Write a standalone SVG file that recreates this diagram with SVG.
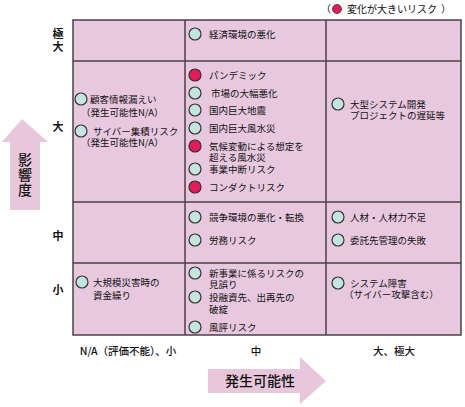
<svg xmlns="http://www.w3.org/2000/svg" width="465" height="407" viewBox="0 0 465 407">
<style>
text{font-family:"Noto Sans CJK JP","Noto Sans",sans-serif;fill:#111}
.t{font-size:9.5px}
.lg{font-size:10px}
.lab{font-size:11px;font-weight:bold;text-anchor:middle}
.ax{font-size:10.5px;text-anchor:middle;font-weight:500}
.big{font-size:14px;text-anchor:middle;font-weight:500}
.cell{fill:#e8c8df}
.g{fill:#c3e5df;stroke:#333;stroke-width:1.2}
.r{fill:#e6195b;stroke:#333;stroke-width:1.2}
.arr{fill:#e8c6dc}
</style>
<g id="legend">
<text class="lg" x="321" y="13">（</text>
<circle cx="337" cy="9" r="4.5" fill="#e6195b" stroke="#333" stroke-width="0.8"/>
<text class="lg" x="347" y="13">変化が大きいリスク</text>
<text class="lg" x="441" y="13">）</text>
</g>
<g id="grid">
<rect class="cell" x="73" y="20" width="388" height="315" stroke="#4a4048" stroke-width="1.5"/>
<path d="M185 20V335M326 20V335M73 61H461M73 202H461M73 263H461" stroke="#4a4048" stroke-width="1.5" fill="none"/>
</g>
<g id="row-labels">
<text class="lab" x="58" y="38">極<tspan x="58" y="51">大</tspan></text>
<text class="lab" x="58" y="131">大</text>
<text class="lab" x="58" y="240">中</text>
<text class="lab" x="58" y="294">小</text>
</g>
<g id="impact-arrow">
<path class="arr" d="M22 119L48 142H40V210H10V142H2Z"/>
<text class="big" x="25" y="165">影<tspan x="25" y="180">響</tspan><tspan x="25" y="195">度</tspan></text>
</g>
<g id="x-labels">
<text class="ax" x="128" y="355">N/A（評価不能）、小</text>
<text class="ax" x="256" y="355">中</text>
<text class="ax" x="394" y="355">大、極大</text>
</g>
<g id="likelihood-arrow">
<path class="arr" d="M208 369H300V357L326 381L300 404V393H208Z"/>
<text class="big" x="260" y="386">発生可能性</text>
</g>
<g id="cell-extreme-mid">
<circle class="g" cx="195" cy="34" r="6"/><text class="t" x="209" y="37.5">経済環境の悪化</text>
</g>
<g id="cell-large-na">
<circle class="g" cx="81" cy="99" r="6"/><text class="t" x="90" y="102.5">顧客情報漏えい<tspan x="81" y="115.5">（発生可能性N/A）</tspan></text>
<circle class="g" cx="81" cy="131" r="6"/><text class="t" x="93" y="134.5">サイバー集積リスク<tspan x="81" y="146">（発生可能性N/A）</tspan></text>
</g>
<g id="cell-large-mid">
<circle class="r" cx="195" cy="75" r="6"/><text class="t" x="209" y="78.5">パンデミック</text>
<circle class="g" cx="195" cy="93" r="6"/><text class="t" x="211" y="96.5">市場の大幅悪化</text>
<circle class="g" cx="195" cy="110" r="6"/><text class="t" x="209" y="113.5">国内巨大地震</text>
<circle class="g" cx="195" cy="128" r="6"/><text class="t" x="209" y="131.5">国内巨大風水災</text>
<circle class="r" cx="195" cy="146" r="6"/><text class="t" x="209" y="149.5">気候変動による想定を<tspan x="209" y="161">超える風水災</tspan></text>
<circle class="g" cx="195" cy="169" r="6"/><text class="t" x="209" y="172.5">事業中断リスク</text>
<circle class="r" cx="195" cy="187" r="6"/><text class="t" x="209" y="190.5">コンダクトリスク</text>
</g>
<g id="cell-large-high">
<circle class="g" cx="338" cy="104" r="6"/><text class="t" x="350" y="107.5">大型システム開発<tspan x="350" y="118.5">プロジェクトの遅延等</tspan></text>
</g>
<g id="cell-mid-mid">
<circle class="g" cx="195" cy="217" r="6"/><text class="t" x="209" y="220.5">競争環境の悪化・転換</text>
<circle class="g" cx="195" cy="240" r="6"/><text class="t" x="209" y="243.5">労務リスク</text>
</g>
<g id="cell-mid-high">
<circle class="g" cx="338" cy="217" r="6"/><text class="t" x="350" y="220.5">人材・人材力不足</text>
<circle class="g" cx="338" cy="240" r="6"/><text class="t" x="350" y="243.5">委託先管理の失敗</text>
</g>
<g id="cell-small-na">
<circle class="g" cx="82" cy="282" r="6"/><text class="t" x="93" y="285.5">大規模災害時の<tspan x="93" y="299">資金繰り</tspan></text>
</g>
<g id="cell-small-mid">
<circle class="g" cx="195" cy="273" r="6"/><text class="t" x="209" y="276.5">新事業に係るリスクの<tspan x="209" y="287.5">見誤り</tspan></text>
<circle class="g" cx="195" cy="297" r="6"/><text class="t" x="209" y="300.5">投融資先、出再先の<tspan x="209" y="313">破綻</tspan></text>
<circle class="g" cx="195" cy="327" r="6"/><text class="t" x="209" y="330.5">風評リスク</text>
</g>
<g id="cell-small-high">
<circle class="g" cx="338" cy="283" r="6"/><text class="t" x="350" y="286.5">システム障害<tspan x="344" y="297.5">（サイバー攻撃含む）</tspan></text>
</g>
</svg>
